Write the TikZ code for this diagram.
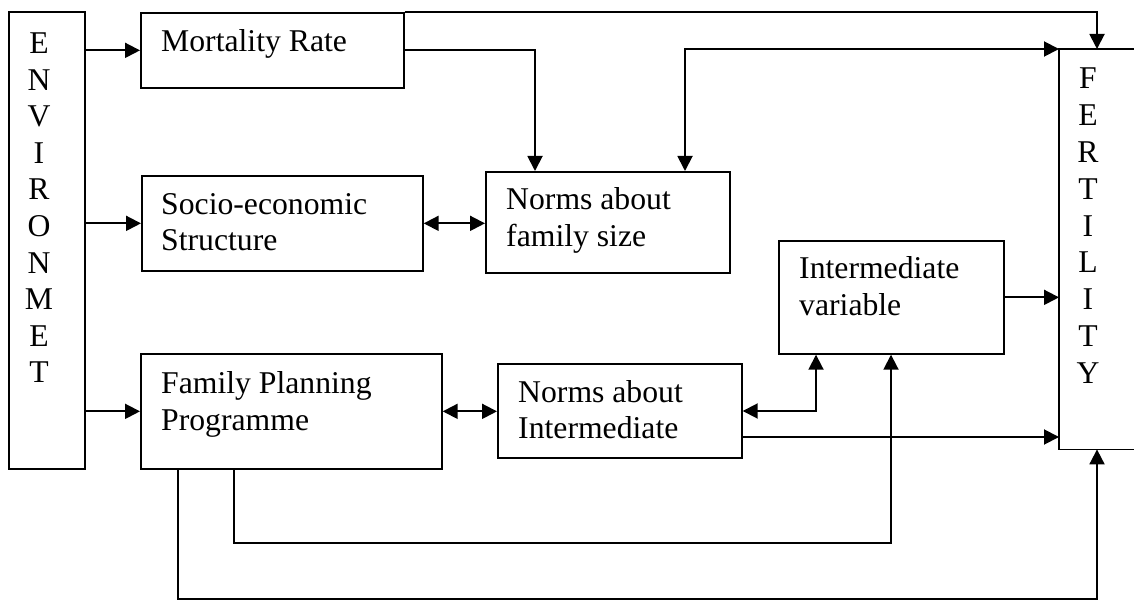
\documentclass[tikz,border=0pt]{standalone}
\usepackage{fontspec}
\setmainfont{Liberation Serif}
\usetikzlibrary{arrows.meta,calc}
\begin{document}
\begin{tikzpicture}[x=1pt,y=-1pt,
  box/.style={draw, rectangle, line width=1.7pt, inner sep=0pt, anchor=north west},
  txt/.style={inner sep=0pt, anchor=base west, font=\fontsize{31.7pt}{36.6pt}\selectfont},
  letter/.style={inner sep=0pt, anchor=base, font=\fontsize{31.7pt}{36.6pt}\selectfont},
  arr/.style={-{Triangle[length=15pt,width=15pt]}, line width=1.9pt},
  arrtwo/.style={{Triangle[length=15pt,width=15pt]}-{Triangle[length=15pt,width=15pt]}, line width=1.9pt}]
\useasboundingbox (0,0) rectangle (1134,601);
% boxes
\node[box, minimum width=76pt, minimum height=457pt] (env) at (8,11) {};
\node[box, minimum width=263pt, minimum height=75pt] (mort) at (140,12) {};
\node[box, minimum width=281pt, minimum height=95pt] (socio) at (141,175) {};
\node[box, minimum width=244pt, minimum height=101pt] (normf) at (485,171) {};
\node[box, minimum width=225pt, minimum height=113pt] (iv) at (778,240) {};
\node[box, minimum width=301pt, minimum height=115pt] (fpp) at (140,353) {};
\node[box, minimum width=244pt, minimum height=94pt] (nai) at (497,363) {};
\node[inner sep=0pt, anchor=north west, minimum width=80pt, minimum height=400pt] (fert) at (1059,49) {};
\draw[line width=1.7pt] (fert.north east) -- (fert.north west) -- (fert.south west) -- (fert.south east);
% texts
\node[txt] (mort-t) at (161,52) {Mortality Rate};
\node[txt] (socio-t1) at (161,215) {Socio-economic};
\node[txt] (socio-t2) at (161,251) {Structure};
\node[txt] (normf-t1) at (506,210) {Norms about};
\node[txt] (normf-t2) at (506,247) {family size};
\node[txt] (iv-t1) at (799,279) {Intermediate};
\node[txt] (iv-t2) at (799,316) {variable};
\node[txt] (fpp-t1) at (161,393) {Family Planning};
\node[txt] (fpp-t2) at (161,430) {Programme};
\node[txt] (nai-t1) at (518,402) {Norms about};
\node[txt] (nai-t2) at (518,438) {Intermediate};
\foreach \l [count=\i from 0] in {E,N,V,I,R,O,N,M,E,T}
  \node[letter] (env-\i) at (39,{53.5+36.6*\i}) {\l};
\foreach \l [count=\i from 0] in {F,E,R,T,I,L,I,T,Y}
  \node[letter] (fert-\i) at (1088,{88.5+36.9*\i}) {\l};
% bend coordinates
\coordinate (c1) at (1097,12);
\coordinate (c2) at (535,49);
\coordinate (c3) at (685,49);
\coordinate (c4) at (816,411);
\coordinate (c5) at (0,437);
\coordinate (c6) at (234,543);
\coordinate (c7) at (891,543);
\coordinate (c8) at (178,599);
\coordinate (c9) at (1097,599);
% connectors
\draw[arr] (env.east |- mort.west) -- (mort.west);
\draw[arr] (env.east |- socio.west) -- (socio.west);
\draw[arr] (env.east |- fpp.west) -- (fpp.west);
\draw[arr] (mort.north east) -- (mort.north east -| c1) -- (c1 |- fert.north);
\draw[arr] (mort.east) -- (mort.east -| c2) -- (c2 |- normf.north);
\draw[arrtwo] (c3 |- normf.north) -- (c3) -- (c3 -| fert.west);
\draw[arrtwo] (socio.east) -- (socio.east -| normf.west);
\draw[arr] (iv.east) -- (iv.east -| fert.west);
\draw[arrtwo] (fpp.east) -- (fpp.east -| nai.west);
\draw[arrtwo] (c4 -| nai.east) -- (c4) -- (c4 |- iv.south);
\draw[arr] (c5 -| nai.east) -- (c5 -| fert.west);
\draw[arr] (c6 |- fpp.south) -- (c6) -- (c7) -- (c7 |- iv.south);
\draw[arr] (c8 |- fpp.south) -- (c8) -- (c9) -- (c9 |- fert.south);
\end{tikzpicture}
\end{document}
